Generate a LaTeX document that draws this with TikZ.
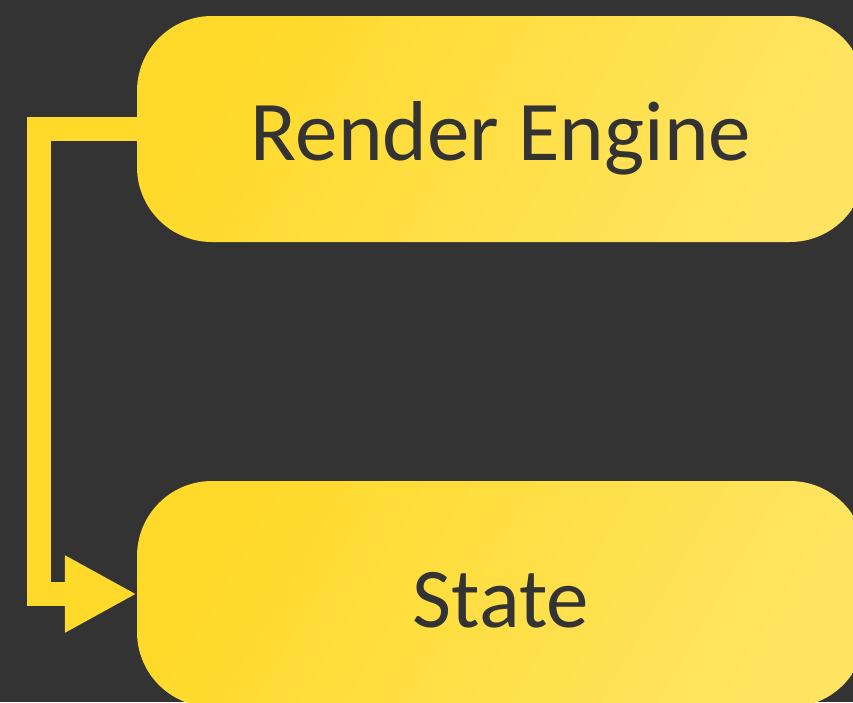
\documentclass[tikz,border=0pt]{standalone}
\usepackage{fontspec}
\setmainfont{Carlito}
\usetikzlibrary{arrows.meta}
\definecolor{bg}{HTML}{333333}
\definecolor{ylA}{HTML}{FFDA2A}
\definecolor{ylB}{HTML}{FFE462}
\definecolor{txt}{HTML}{333333}
\tikzset{
  box/.style={rounded corners=75pt, minimum width=728pt, minimum height=226pt,
    inner sep=0pt, left color=ylA, right color=ylB, shading angle=60,
    text=txt, font=\fontsize{85}{100}\selectfont},
  link/.style={draw=ylA, line width=24pt, line join=miter,
    -{Triangle[length=72pt,width=72pt]}}
}
\begin{document}
\begin{tikzpicture}[x=1pt,y=-1pt]
\useasboundingbox (0,0) rectangle (853,702);
\fill[bg] (0,0) rectangle (853,702);
\clip (0,0) rectangle (853,702);
\node[box] (render) at (501,129) {\raisebox{-9pt}[\height][\depth]{Render Engine}};
\node[box] (state) at (501,594) {\raisebox{-6pt}[\height][\depth]{State}};
\draw[link] (render.west) -- ++(-98,0) |- (state.west);
\end{tikzpicture}
\end{document}
